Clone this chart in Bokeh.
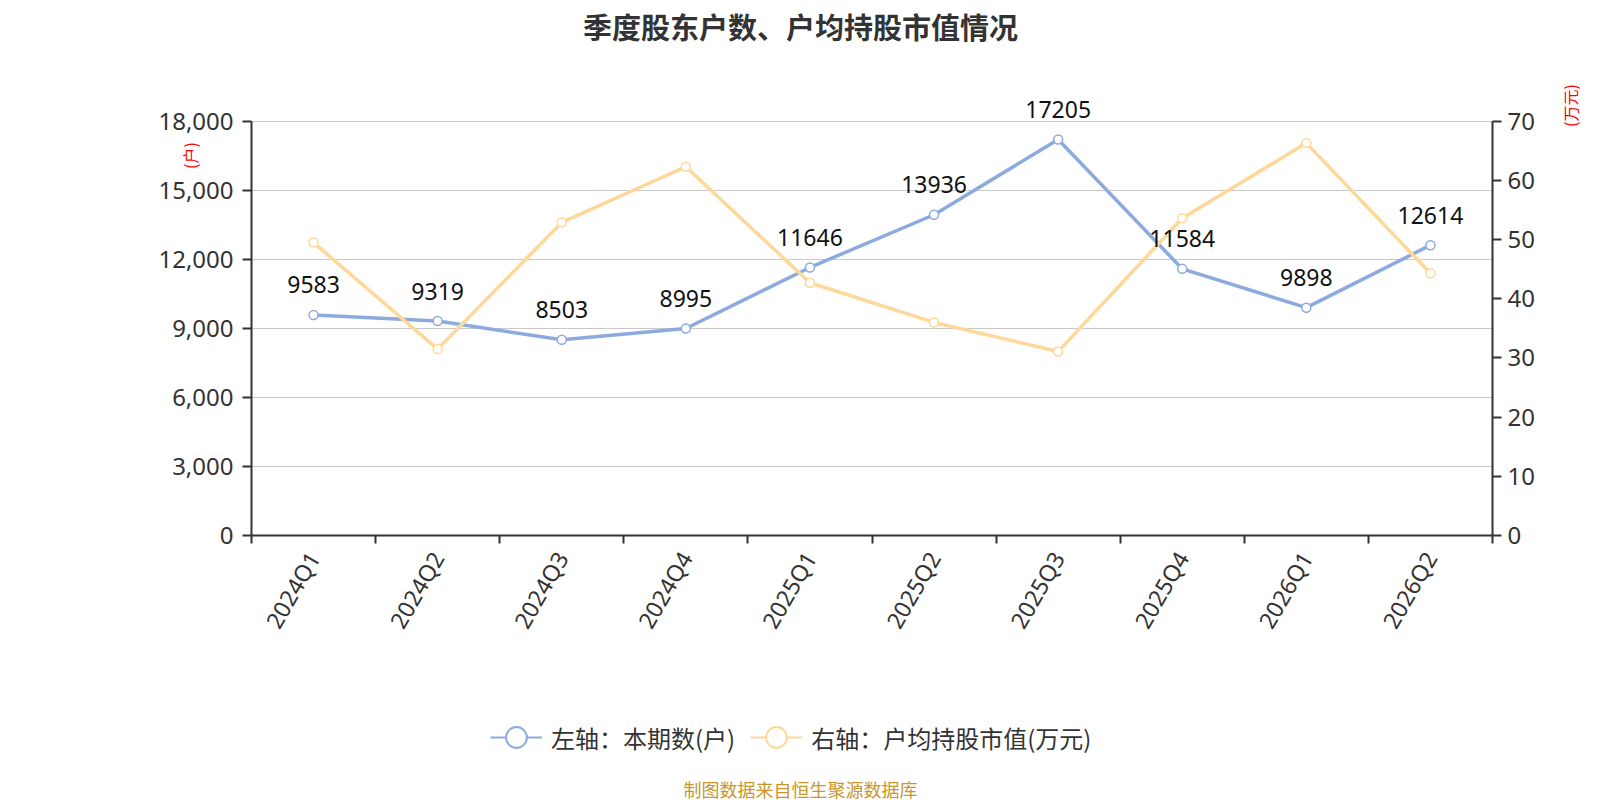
import math
from bokeh.plotting import figure
from bokeh.layouts import column
from bokeh.models import (Range1d, LinearAxis, FixedTicker, NumeralTickFormatter,
                          Label, Legend, LegendItem)
from bokeh.core.properties import value
from bokeh.embed import file_html
from bokeh.resources import INLINE

# ---------------- data ----------------
quarters = ["2024Q1", "2024Q2", "2024Q3", "2024Q4", "2025Q1",
            "2025Q2", "2025Q3", "2025Q4", "2026Q1", "2026Q2"]
holders = [9583, 9319, 8503, 8995, 11646, 13936, 17205, 11584, 9898, 12614]
avg_value = [49.5, 31.5, 52.9, 62.3, 42.7, 36.0, 31.1, 53.6, 66.3, 44.3]
left_ticks = [0, 3000, 6000, 9000, 12000, 15000, 18000]
right_ticks = [0, 10, 20, 30, 40, 50, 60, 70]
title_text = "季度股东户数、户均持股市值情况"
legend_left = "左轴：本期数(户)"
legend_right = "右轴：户均持股市值(万元)"
left_unit = "(户)"
right_unit = "(万元)"
footer_text = "制图数据来自恒生聚源数据库"

BLUE = "#8caade"
YELLOW = "#fed89a"
AXIS = "#333333"
CJK = "Noto Sans CJK SC"
LAT = "Noto Sans"

# ---------------- layout (pixels) ----------------
W = 1584
H_MAIN, H_FOOT = 665, 135
FRAME_L, FRAME_R, FRAME_B = 251, 1492, 535
PLOT_H = 414.3            # pixel height of the 0..max tick span
FRAME_H = FRAME_B         # frame reaches the top of the canvas
scale_up = FRAME_H / PLOT_H

p = figure(width=W, height=H_MAIN, output_backend="svg", toolbar_location=None,
           x_range=Range1d(0, len(quarters)),
           y_range=Range1d(0, left_ticks[-1] * scale_up),
           min_border_left=FRAME_L, min_border_right=W - FRAME_R,
           min_border_top=0, min_border_bottom=H_MAIN - FRAME_B)
p.outline_line_color = None
p.background_fill_color = "white"
p.border_fill_color = "white"
p.xgrid.visible = False
p.ygrid.grid_line_color = "#c8c8c8"
p.ygrid.grid_line_width = 1.2

xs = [i + 0.5 for i in range(len(quarters))]

# x axis
xa = p.xaxis[0]
xa.ticker = FixedTicker(ticks=xs, minor_ticks=list(range(len(quarters) + 1)))
xa.major_label_overrides = {x: q for x, q in zip(xs, quarters)}
xa.major_tick_line_color = None
xa.major_tick_out = 0
xa.major_tick_in = 0
xa.minor_tick_out = 8
xa.minor_tick_in = 0
xa.minor_tick_line_color = AXIS
xa.minor_tick_line_width = 2
xa.axis_line_color = AXIS
xa.axis_line_width = 2
xa.major_label_orientation = math.pi / 3
xa.major_label_standoff = 10
xa.major_label_text_font = LAT
xa.major_label_text_font_size = "23px"
xa.major_label_text_color = AXIS

# left axis
ya = p.yaxis[0]
ya.ticker = FixedTicker(ticks=left_ticks)
ya.formatter = NumeralTickFormatter(format="0,0")
ya.bounds = (left_ticks[0], left_ticks[-1])
ya.major_tick_out = 9
ya.major_tick_in = 0
ya.major_tick_line_width = 2
ya.major_tick_line_color = AXIS
ya.minor_tick_line_color = None
ya.axis_line_color = AXIS
ya.axis_line_width = 2
ya.major_label_standoff = 9
ya.major_label_text_font = LAT
ya.major_label_text_font_size = "24px"
ya.major_label_text_color = AXIS

# right axis
p.extra_y_ranges = {"right": Range1d(0, right_ticks[-1] * scale_up)}
ra = LinearAxis(y_range_name="right", ticker=FixedTicker(ticks=right_ticks),
                bounds=(right_ticks[0], right_ticks[-1]))
ra.major_tick_out = 9
ra.major_tick_in = 0
ra.major_tick_line_width = 2
ra.major_tick_line_color = AXIS
ra.minor_tick_line_color = None
ra.axis_line_color = AXIS
ra.axis_line_width = 2
ra.major_label_standoff = 6
ra.major_label_text_font = LAT
ra.major_label_text_font_size = "24px"
ra.major_label_text_color = AXIS
p.add_layout(ra, "right")

# series
p.line(xs, holders, line_color=BLUE, line_width=3.5)
p.scatter(xs, holders, marker="circle", size=9, fill_color="white",
          line_color=BLUE, line_width=1.5)
p.line(xs, avg_value, line_color=YELLOW, line_width=3.5, y_range_name="right")
p.scatter(xs, avg_value, marker="circle", size=9, fill_color="white",
          line_color=YELLOW, line_width=1.5, y_range_name="right")

p.text(x=xs, y=holders, text=[str(v) for v in holders], text_align="center",
       text_baseline="alphabetic", y_offset=-30, text_font=value(LAT),
       text_font_size="23px", text_color="#111111")

# title (inside the frame, which spans to the top edge)
p.add_layout(Label(x=549, y=FRAME_B - 25, x_units="screen", y_units="screen",
                   text=title_text, text_align="center", text_baseline="middle",
                   text_font=CJK, text_font_size="29px", text_font_style="bold",
                   text_color="#333333"))
# axis units
p.add_layout(Label(x=58, y=FRAME_B - 155, x_units="screen", y_units="screen",
                   text=left_unit, angle=math.pi / 2, text_align="center",
                   text_baseline="middle", text_font=CJK, text_font_size="16px",
                   text_color="red"), "left")
p.add_layout(Label(x=32, y=FRAME_B - 105, x_units="screen", y_units="screen",
                   text=right_unit, angle=math.pi / 2, text_align="center",
                   text_baseline="middle", text_font=CJK, text_font_size="16px",
                   text_color="red"), "right")

# ---------------- bottom strip: legend + footer ----------------
q = figure(width=W, height=H_FOOT, output_backend="svg", toolbar_location=None,
           x_range=Range1d(0, len(quarters)), y_range=Range1d(0, left_ticks[-1]),
           min_border_left=0, min_border_right=0, min_border_top=0,
           min_border_bottom=0)
q.outline_line_color = None
q.axis.visible = False
q.grid.visible = False
q.background_fill_color = "white"
q.border_fill_color = "white"

# legend-only renderers (hidden in the strip, drawn only as legend glyphs)
lb = q.line(xs, holders, line_color=BLUE, line_width=2, visible=False)
cb = q.scatter(xs, holders, marker="circle", size=22, fill_color="white",
               line_color=BLUE, line_width=2, visible=False)
ly = q.line(xs, holders, line_color=YELLOW, line_width=2, visible=False)
cy = q.scatter(xs, holders, marker="circle", size=22, fill_color="white",
               line_color=YELLOW, line_width=2, visible=False)
legend = Legend(items=[LegendItem(label=legend_left, renderers=[lb, cb]),
                       LegendItem(label=legend_right, renderers=[ly, cy])],
                orientation="horizontal", location=(490 - FRAME_L, 35),
                glyph_width=52, glyph_height=56, label_standoff=9, spacing=15,
                padding=0, margin=0, border_line_color=None,
                background_fill_alpha=0, label_text_font=CJK,
                label_text_font_size="24px", label_text_color=AXIS)
q.add_layout(legend)
q.add_layout(Label(x=800 - FRAME_L, y=12, x_units="screen", y_units="screen",
                   text=footer_text, text_align="center", text_baseline="middle",
                   text_font=CJK, text_font_size="18px", text_color="#c8962e"))

layout = column(p, q, spacing=0)
open("out.html", "w").write(file_html(layout, INLINE))
